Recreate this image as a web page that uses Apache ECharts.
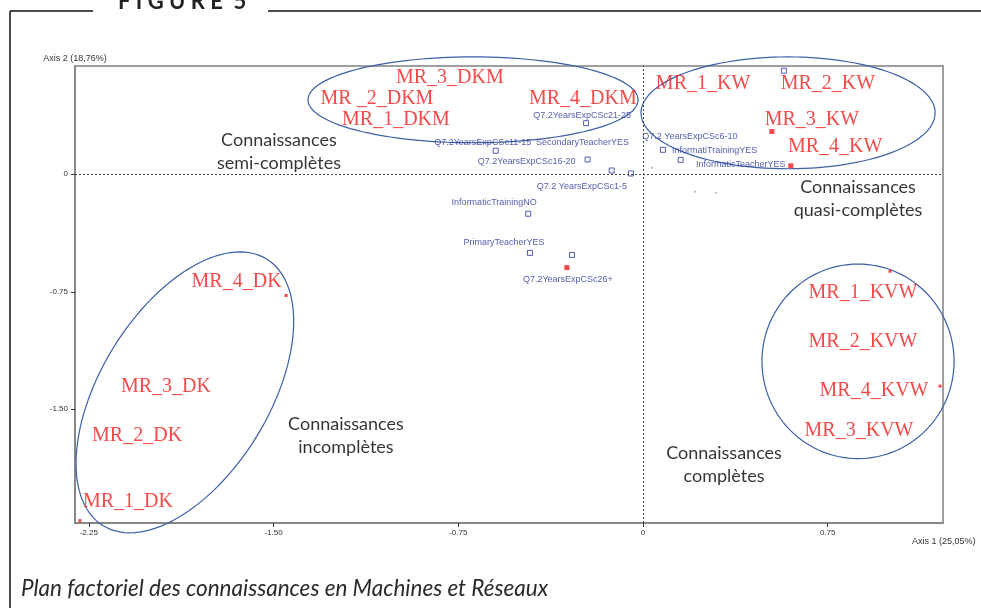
<!DOCTYPE html>
<html>
<head>
<meta charset="utf-8">
<script src="https://cdn.jsdelivr.net/npm/echarts@6/dist/echarts.min.js"></script>
<style>
html, body { margin: 0; padding: 0; background: #fff; }
#chart { width: 981px; height: 608px; }
</style>
</head>
<body>
<div id="chart"></div>
<script>
// axis ticks
const xTicks = [-2.25, -1.5, -0.75, 0, 0.75];
const yTicks = [-1.5, -0.75, 0];

// supplementary modalities (blue hollow squares)
const suppNames = ['Q7.2YearsExpCSc21-25', 'Q7.2YearsExpCSc11-15', 'SecondaryTeacherYES', 'Q7.2YearsExpCSc16-20',
  'Q7.2 YearsExpCSc1-5', 'InformaticTrainingNO', 'PrimaryTeacherYES', '', 'Q7.2 YearsExpCSc6-10', 'InformatiTrainingYES', ''];
const suppX = [-0.231, -0.598, -0.225, -0.127, -0.049, -0.466, -0.459, -0.288, 0.081, 0.153, 0.572];
const suppY = [0.326, 0.150, 0.094, 0.024, 0.005, -0.252, -0.502, -0.515, 0.156, 0.092, 0.661];

// active modalities (red squares)
const activeNames = ['Q7.2YearsExpCSc26+', 'InformaticTeacherYES', '', '', '', '', ''];
const activeX = [-0.309, 0.600, 0.523, 1.003, 1.206, -1.449, -2.286];
const activeY = [-0.596, 0.054, 0.273, -0.619, -1.352, -0.774, -2.211];

// MR groups
const groupNames = ['MR_3_DKM', 'MR _2_DKM', 'MR_1_DKM', 'MR_4_DKM', 'MR_1_KW', 'MR_2_KW', 'MR_3_KW', 'MR_4_KW',
  'MR_4_DK', 'MR_3_DK', 'MR_2_DK', 'MR_1_DK', 'MR_1_KVW', 'MR_2_KVW', 'MR_4_KVW', 'MR_3_KVW'];
const groupX = [-0.784, -1.080, -1.003, -0.244, 0.244, 0.751, 0.686, 0.780,
  -1.650, -1.937, -2.054, -2.091, 0.893, 0.893, 0.938, 0.877];
const groupY = [0.615, 0.481, 0.347, 0.481, 0.576, 0.576, 0.347, 0.175,
  -0.685, -1.354, -1.672, -2.092, -0.755, -1.067, -1.385, -1.640];

// zone captions
const zoneNames = ['Connaissances\nsemi-complètes', 'Connaissances\nquasi-complètes', 'Connaissances\nincomplètes', 'Connaissances\ncomplètes'];
const zoneX = [-1.478, 0.873, -1.206, 0.329];
const zoneY = [0.143, -0.159, -1.669, -1.854];

// group ellipses (centre, radii in axis units, rotation in degrees)
const ellipseCx = [-0.690, 0.589, -1.860, 0.873];
const ellipseCy = [0.475, 0.392, -1.392, -1.194];
const ellipseRx = [0.670, 0.597, 0.635, 0.390];
const ellipseRy = [0.274, 0.357, 0.538, 0.621];
const ellipseRot = [0, 0, 58.5, 0];

// tiny grey points
const dotX = [0.036, 0.211, 0.296];
const dotY = [0.042, -0.112, -0.118];

// label offsets in px (layout only)
const suppOffsets = [[-4, -8], [-13, -8], [-5, -17], [-85, -9], [-49, 13], [-34, -11], [-26, -10], [0, 0], [27, -13], [34, -9], [0, 0]];
const activeOffsets = [[1, 12], [-50, -1], [0, 0], [0, 0], [0, 0], [0, 0], [0, 0]];

const blue = '#28359a';
const red = '#f21a1a';
const clear = 'rgba(0,0,0,0)';
const tickFmt = v => (v === 0 ? '0' : v.toFixed(2));

const smallLabel = {
  show: true, position: 'inside', color: blue, fontSize: 9, fontFamily: 'Liberation Sans',
  formatter: p => p.name
};

const chart = echarts.init(document.getElementById('chart'));
chart.setOption({
  backgroundColor: '#fff',
  animation: false,
  grid: { left: 75, top: 66, width: 868, height: 457, show: true, borderColor: '#808080', borderWidth: 1.5 },
  xAxis: {
    type: 'value', min: -2.306, max: 1.218,
    axisLine: { onZero: false, lineStyle: { color: '#808080', width: 1.5 } },
    axisTick: { show: true, inside: false, length: 4, customValues: xTicks, lineStyle: { color: '#333' } },
    axisLabel: { customValues: xTicks, formatter: tickFmt, fontSize: 8, color: '#333', fontFamily: 'Liberation Sans', margin: 6 },
    splitLine: { show: false }
  },
  yAxis: {
    type: 'value', min: -2.226, max: 0.691,
    name: 'Axis 2 (18,76%)', nameLocation: 'end', nameGap: 7,
    nameTextStyle: { fontSize: 9, color: '#333', fontFamily: 'Liberation Sans', align: 'center', verticalAlign: 'middle' },
    axisLine: { onZero: false, lineStyle: { color: '#808080', width: 1.5 } },
    axisTick: { show: true, inside: false, length: 4, customValues: yTicks, lineStyle: { color: '#333' } },
    axisLabel: { customValues: yTicks, formatter: tickFmt, fontSize: 8, color: '#333', fontFamily: 'Liberation Sans', margin: 7 },
    splitLine: { show: false }
  },
  graphic: [
    { type: 'line', shape: { x1: 10, y1: 11, x2: 10, y2: 608 }, style: { stroke: '#111', lineWidth: 1.5 } },
    { type: 'line', shape: { x1: 10, y1: 11, x2: 93, y2: 11 }, style: { stroke: '#111', lineWidth: 1.5 } },
    { type: 'line', shape: { x1: 268, y1: 11, x2: 981, y2: 11 }, style: { stroke: '#111', lineWidth: 1.5 } },
    { type: 'text', left: 118, top: -9, style: { text: 'F I G U R E  5', font: 'bold 22px Lato', fill: '#222' } },
    { type: 'text', left: 912, top: 537, style: { text: 'Axis 1 (25,05%)', font: '9px Liberation Sans', fill: '#333' } },
    { type: 'text', left: 21, top: 577, style: { text: 'Plan factoriel des connaissances en Machines et Réseaux', font: 'italic 22.5px Lato', fill: '#2a2a2a' } }
  ],
  series: [
    {
      type: 'custom', clip: false, silent: true, z: 1,
      data: ellipseCx.map((cx, i) => [cx, ellipseCy[i], ellipseRx[i], ellipseRy[i], ellipseRot[i]]),
      renderItem: function (params, api) {
        const c = api.coord([api.value(0), api.value(1)]);
        const s = api.size([api.value(2), api.value(3)]);
        const th = api.value(4) * Math.PI / 180;
        const pts = [];
        for (let i = 0; i < 120; i++) {
          const t = i / 120 * 2 * Math.PI;
          const u = s[0] * Math.cos(t), v = s[1] * Math.sin(t);
          pts.push([c[0] + u * Math.cos(th) - v * Math.sin(th), c[1] - (u * Math.sin(th) + v * Math.cos(th))]);
        }
        return { type: 'polygon', shape: { points: pts }, style: { fill: 'none', stroke: '#3d5fa8', lineWidth: 1.2 } };
      }
    },
    {
      type: 'scatter', silent: true, z: 2,
      symbol: 'rect', symbolSize: 5,
      itemStyle: { color: '#fff', borderColor: blue, borderWidth: 1 },
      label: smallLabel,
      data: suppX.map((x, i) => ({ name: suppNames[i], value: [x, suppY[i]], label: { offset: suppOffsets[i] } })),
      markLine: {
        silent: true, symbol: 'none', label: { show: false },
        lineStyle: { color: '#444', type: [2, 2], width: 1 },
        data: [{ xAxis: 0 }, { yAxis: 0 }]
      }
    },
    {
      type: 'scatter', silent: true, z: 3,
      symbol: 'rect', symbolSize: (v, p) => (p.dataIndex < 3 ? 5 : 3),
      itemStyle: { color: red },
      label: smallLabel,
      data: activeX.map((x, i) => ({ name: activeNames[i], value: [x, activeY[i]], label: { offset: activeOffsets[i] } }))
    },
    {
      type: 'scatter', silent: true, z: 2,
      symbolSize: 2, itemStyle: { color: '#999' },
      data: dotX.map((x, i) => [x, dotY[i]])
    },
    {
      type: 'scatter', silent: true, z: 4,
      symbolSize: 1, itemStyle: { color: clear },
      label: { show: true, position: 'inside', color: red, fontSize: 20, fontFamily: 'Liberation Serif', formatter: p => p.name },
      data: groupX.map((x, i) => ({ name: groupNames[i], value: [x, groupY[i]] }))
    },
    {
      type: 'scatter', silent: true, z: 4,
      symbolSize: 1, itemStyle: { color: clear },
      label: { show: true, position: 'inside', color: '#000', fontSize: 18, lineHeight: 23, align: 'center', fontFamily: 'Lato', formatter: p => p.name },
      data: zoneX.map((x, i) => ({ name: zoneNames[i], value: [x, zoneY[i]] }))
    }
  ]
});
</script>
</body>
</html>
